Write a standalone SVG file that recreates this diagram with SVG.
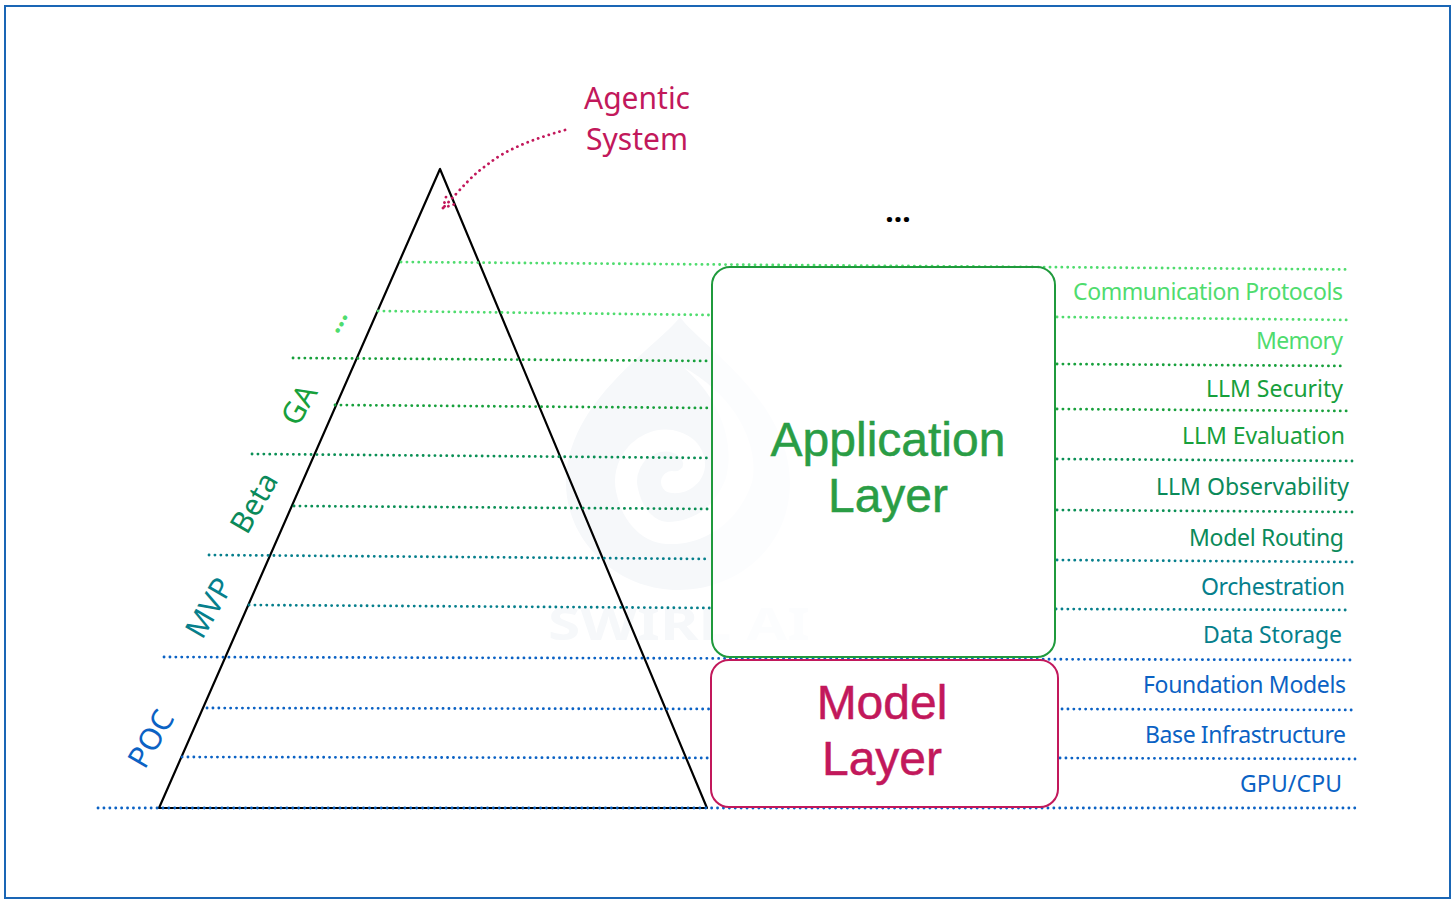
<svg xmlns="http://www.w3.org/2000/svg" width="1456" height="903" viewBox="0 0 1456 903">
<style>
text{font-family:"Noto Sans","Open Sans",sans-serif}
.lbl{font-size:23px;text-anchor:end}
.rot{font-size:30px;text-anchor:middle}
.big{font-family:"Liberation Sans",Arial,sans-serif;font-size:48px;text-anchor:middle;stroke-width:.5}
.ln{fill:none;stroke-width:2.8;stroke-linecap:round;stroke-dasharray:0.1 5.8}
.c1{stroke:#4fdc6e}.c2{stroke:#17a03c}.c3{stroke:#0a8f55}.c4{stroke:#067f8c}.c5{stroke:#0b62c4}
.t1{fill:#4fdc6e}.t2{fill:#17a03c}.t3{fill:#0a8a5a}.t4{fill:#067f8c}.t5{fill:#0b62c4}
.cr{fill:#c2185b}
</style>
<rect id="frame" x="5" y="6" width="1445" height="892" fill="#fff" stroke="#1a66b5" stroke-width="2"/>
<g id="watermark">
<path d="M680 317C700 345 790 400 790 483C790 545 740 590 678 590C616 590 566 540 566 483C566 400 660 345 680 317Z" fill="#f6f8fa"/>
<path d="M672 482C685 484 698 472 693 458C688 443 668 436 650 444C632 452 623 472 627 490C632 515 648 532 667 533" fill="none" stroke="#fff" stroke-width="22" stroke-linecap="round"/>
<path d="M667 544C706 546 740 520 752 482C760 445 735 395 683 367C722 400 735 445 726 478C716 505 695 522 667 522Z" fill="#fff"/>
<text x="679" y="640" font-size="44" font-weight="700" textLength="262" lengthAdjust="spacingAndGlyphs" text-anchor="middle" fill="#f6f8fa">SWIRL AI</text>
</g>
<g id="pyramid"><path d="M440 169L159 808L707 808Z" fill="none" stroke="#000" stroke-width="2.2" stroke-linejoin="round"/></g>
<g id="connectors">
<path class="ln c1" d="M401 262L1350 269.5"/>
<path class="ln c1" d="M378 311L710 315M1057 317L1350 320"/>
<path class="ln c2" d="M293 358L710 361M1057 364L1345 366"/>
<path class="ln c2" d="M335 405L710 408M1057 409L1350 411"/>
<path class="ln c3" d="M252 454L710 458M1057 459L1352 461"/>
<path class="ln c3" d="M294 506L710 509M1057 510L1352 512"/>
<path class="ln c4" d="M209 555L710 559M1057 560L1354 562"/>
<path class="ln c4" d="M249 605L710 608M1056 609L1350 610"/>
<path class="ln c5" d="M164 657L1352 660"/>
<path class="ln c5" d="M207 708L710 709M1062 709L1356 710"/>
<path class="ln c5" d="M182 757L710 758M1060 758L1355 759"/>
<path class="ln c5" d="M98 808L1360 808"/>
<path d="M565 130C530 140 505 150 487 165C472 175 462 188 443 208M443 208L446 197M443 208L455 204" fill="none" stroke="#c2185b" stroke-width="2.8" stroke-linecap="round" stroke-dasharray="0.1 5.5"/>
</g>
<g id="application-layer">
<rect x="712" y="267" width="343" height="390" rx="18" fill="#fff" fill-opacity=".7" stroke="#1f9a3c" stroke-width="2"/>
<text class="big" x="888" y="456" fill="#2a9d45" stroke="#2a9d45">Application</text>
<text class="big" x="888" y="512" fill="#2a9d45" stroke="#2a9d45">Layer</text>
</g>
<g id="model-layer">
<rect x="711" y="660" width="347" height="147" rx="18" fill="#fff" stroke="#c2185b" stroke-width="2"/>
<text class="big cr" x="882" y="719" stroke="#c2185b">Model</text>
<text class="big cr" x="882" y="775" stroke="#c2185b">Layer</text>
</g>
<g id="agentic-label">
<text class="cr" x="637" y="109" font-size="30" text-anchor="middle">Agentic</text>
<text class="cr" x="637" y="150" font-size="30" text-anchor="middle">System</text>
</g>
<g id="top-ellipsis"><text x="898" y="222" font-size="30" font-weight="700" text-anchor="middle" fill="#000">...</text></g>
<g id="stages">
<text class="rot t5" transform="translate(160 744) rotate(-60)">POC</text>
<text class="rot t4" transform="translate(218 613) rotate(-60)">MVP</text>
<text class="rot t3" transform="translate(263 508) rotate(-60)">Beta</text>
<text class="rot t2" transform="translate(308 410) rotate(-60)">GA</text>
<text class="rot t1" transform="translate(343 325) rotate(-60)" style="font-size:26px;font-weight:700">...</text>
</g>
<g id="layers">
<text class="lbl t1" x="1343" y="300" textLength="270">Communication Protocols</text>
<text class="lbl t1" x="1343" y="349" textLength="87">Memory</text>
<text class="lbl t2" x="1343" y="397" textLength="137">LLM Security</text>
<text class="lbl t2" x="1345" y="444" textLength="163">LLM Evaluation</text>
<text class="lbl t3" x="1349" y="495" textLength="193">LLM Observability</text>
<text class="lbl t3" x="1344" y="546" textLength="155">Model Routing</text>
<text class="lbl t4" x="1345" y="595" textLength="144">Orchestration</text>
<text class="lbl t4" x="1342" y="643" textLength="139">Data Storage</text>
<text class="lbl t5" x="1346" y="693" textLength="203">Foundation Models</text>
<text class="lbl t5" x="1346" y="743" textLength="201">Base Infrastructure</text>
<text class="lbl t5" x="1342" y="792" textLength="102">GPU/CPU</text>
</g>
</svg>
